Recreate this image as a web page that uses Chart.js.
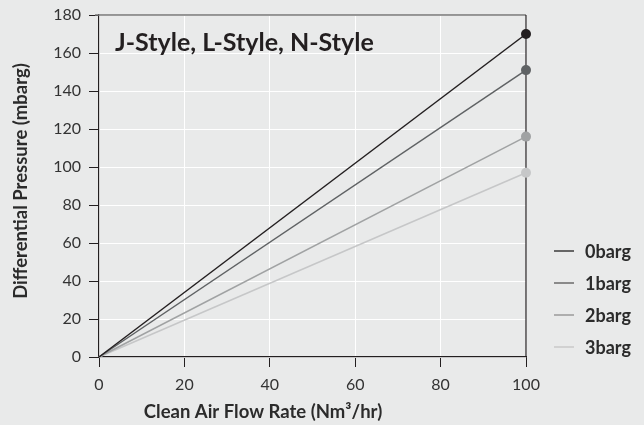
<!DOCTYPE html>
<html><head><meta charset="utf-8">
<script src="https://cdn.jsdelivr.net/npm/chart.js@4"></script>
<style>html,body{margin:0;padding:0;background:#e9eaea;}#wrap{width:644px;height:425px;}</style>
</head><body><div id="wrap"><canvas id="c" width="644" height="425"></canvas></div>
<script>
const flowRates = [0, 100];
const series0 = [0, 170];
const series1 = [0, 151];
const series2 = [0, 116];
const series3 = [0, 97];
const seriesNames = ['0barg', '1barg', '2barg', '3barg'];
const xTicks = [0, 20, 40, 60, 80, 100];
const yTicks = [0, 20, 40, 60, 80, 100, 120, 140, 160, 180];
const chartTitle = 'J-Style, L-Style, N-Style';
const xTitle = 'Clean Air Flow Rate (Nm³/hr)';
const yTitle = 'Differential Pressure (mbarg)';

const FONT = 'Lato, "Source Sans Pro", "Noto Sans", sans-serif';
const lineColors = ['#231f20', '#5f6264', '#a0a2a3', '#c6c7c8'];
const legendColors = ['#3a3a3a', '#6a6a6a', '#9a9a9a', '#c8c8c8'];
const allSeries = [series0, series1, series2, series3];

const datasets = allSeries.map((s, i) => ({
  label: seriesNames[i],
  data: flowRates.map((x, j) => ({x: x, y: s[j]})),
  borderColor: lineColors[i],
  backgroundColor: lineColors[i],
  borderWidth: 1.5,
  pointRadius: [0, 5],
  pointHoverRadius: [0, 5],
  pointBorderWidth: 0,
  tension: 0,
  clip: false
}));

const decor = {
  id: 'decor',
  beforeDatasetsDraw(chart) {
    const ctx = chart.ctx, a = chart.chartArea;
    ctx.save();
    ctx.strokeStyle = '#777';
    ctx.lineWidth = 1.5;
    ctx.beginPath(); ctx.moveTo(a.left - 4, a.top); ctx.lineTo(a.right, a.top); ctx.stroke();
    ctx.strokeStyle = '#231f20';
    ctx.lineWidth = 1.2;
    ctx.beginPath(); ctx.moveTo(a.right, a.top); ctx.lineTo(a.right, a.bottom); ctx.stroke();
    ctx.restore();
  },
  afterDraw(chart) {
    const ctx = chart.ctx, a = chart.chartArea;
    ctx.save();
    ctx.fillStyle = '#231f20';
    ctx.font = 'bold 25px ' + FONT;
    ctx.textBaseline = 'middle';
    ctx.textAlign = 'left';
    ctx.fillText(chartTitle, a.left + 16, 43);
    // axis titles
    ctx.fillStyle = '#2b2b2b';
    ctx.font = 'bold 18.5px ' + FONT;
    ctx.textAlign = 'center';
    ctx.fillText(xTitle, 263, 412);
    ctx.save();
    ctx.translate(21, 181);
    ctx.rotate(-Math.PI / 2);
    ctx.fillText(yTitle, 0, 0);
    ctx.restore();
    // legend
    ctx.textAlign = 'left';
    chart.data.datasets.forEach((d, i) => {
      const y = 251 + i * 32;
      ctx.strokeStyle = legendColors[i];
      ctx.lineWidth = 1.5;
      ctx.beginPath(); ctx.moveTo(554, y); ctx.lineTo(574, y); ctx.stroke();
      ctx.fillStyle = '#2b2b2b';
      ctx.font = 'bold 18px ' + FONT;
      ctx.fillText(d.label, 585, y + 1);
    });
    ctx.restore();
  }
};

new Chart(document.getElementById('c'), {
  type: 'line',
  data: { datasets },
  options: {
    responsive: false,
    animation: false,
    layout: { padding: { top: 15, right: 118, bottom: 0, left: 0 } },
    plugins: { legend: { display: false }, tooltip: { enabled: false } },
    scales: {
      x: {
        type: 'linear', min: 0, max: 100,
        afterBuildTicks: s => { s.ticks = xTicks.map(v => ({value: v})); },
        afterFit: s => { s.height = 68; s.paddingLeft = 0; s.paddingRight = 0; },
        grid: { color: '#ffffff', lineWidth: 1, tickColor: '#231f20', tickLength: 10 },
        border: { color: '#231f20', width: 1.2 },
        ticks: { color: '#333', font: { family: FONT, size: 16 }, padding: 8, maxRotation: 0 }
      },
      y: {
        type: 'linear', min: 0, max: 180,
        afterBuildTicks: s => { s.ticks = yTicks.map(v => ({value: v})); },
        afterFit: s => { s.width = 99; s.paddingTop = 0; s.paddingBottom = 0; },
        grid: { color: '#ffffff', lineWidth: 1, tickColor: '#231f20', tickLength: 10 },
        border: { color: '#231f20', width: 1.2 },
        ticks: { color: '#333', font: { family: FONT, size: 16 }, padding: 8 }
      }
    }
  },
  plugins: [decor]
});
</script>
</body></html>
